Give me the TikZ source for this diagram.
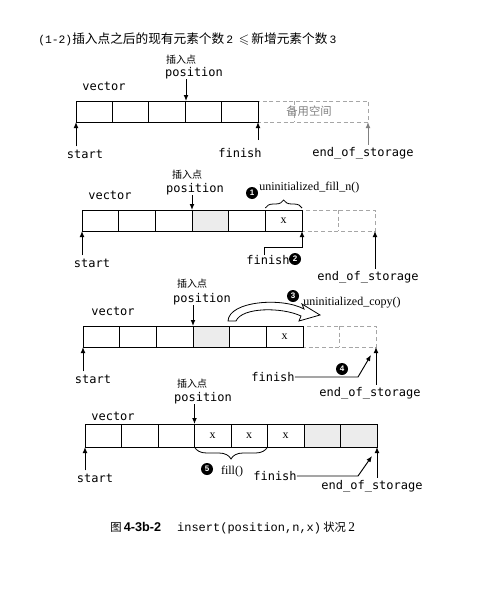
\documentclass[tikz,border=0pt]{standalone}
\usepackage{amssymb}
\usepackage{fontspec}
\setmainfont{Liberation Serif}
\newfontfamily\lblfont{DejaVu Sans Mono}
\newfontfamily\cjk{Noto Sans CJK SC}
\newfontfamily\capmono{Liberation Mono}
\newfontfamily\capsans{Liberation Sans}
\usetikzlibrary{arrows.meta,decorations.pathreplacing}

\tikzset{
  lbl/.style={font=\lblfont\fontsize{9}{9}\selectfont, inner sep=0pt},
  ins/.style={font=\cjk\fontsize{7.5}{8}\selectfont, inner sep=0pt},
  fn/.style={font=\fontsize{9}{9}\selectfont, inner sep=0pt},
  ptr/.style={line width=0.7pt, -{Latex[length=4.5pt,width=3.6pt]}},
  cell/.style={draw, line width=0.6pt},
  spare/.style={draw=gray!70, densely dashed, line width=0.45pt},
  used/.style={fill=gray!15},
  num/.style={circle, fill=black, text=white, inner sep=0pt, minimum size=9pt,
    font=\capsans\fontsize{6}{6}\selectfont\bfseries},
  brc/.style={decorate, decoration={brace, amplitude=6pt}, line width=0.6pt}
}

\begin{document}
\begin{tikzpicture}[x=0.75pt,y=-0.75pt]
\useasboundingbox (0,0) rectangle (478,592);

% heading
\node[anchor=west, inner sep=0pt] (head) at (38,39) {{\capmono\fontsize{8.5}{9}\selectfont(1-2)}{\cjk\fontsize{9.5}{10}\selectfont 插入点之后的现有元素个数}\,{\capmono\fontsize{8.5}{9}\selectfont 2}\, $\leqslant$\,{\cjk\fontsize{9.5}{10}\selectfont 新增元素个数}\,{\capmono\fontsize{8.5}{9}\selectfont 3}};

% ---- state 1
\draw[spare] (258,101) rectangle (368,122);
\draw[spare] (294.5,101) -- (294.5,122);
\draw[cell] (76,101) rectangle (258,122);
\foreach \x in {112.4,148.8,185.2,221.6} \draw[cell] (\x,101) -- (\x,122);
\node[font=\cjk\fontsize{8.5}{9}\selectfont, text=gray, inner sep=0pt] (spare1) at (309,111.5) {备用空间};
\node[lbl] (vec1) at (104,86) {vector};
\node[ins] (ins1) at (181,60) {插入点};
\node[lbl] (pos1) at (194,73) {position};
\coordinate (p1) at (186,101);
\draw[ptr] (pos1.south -| p1) -- (p1);
\node[lbl] (start1) at (85,154) {start};
\coordinate (s1) at (76,122);
\draw[ptr] (start1.north -| s1) ++(0,-3) -- (s1);
\node[lbl] (fin1) at (240,153) {finish};
\coordinate (f1) at (258,122);
\draw[ptr] (258,140) -- (f1);
\node[lbl] (eos1) at (363,153) {end\_of\_storage};
\coordinate (e1) at (368,122);
\draw[ptr, draw=gray, fill=gray] (eos1.north -| e1) ++(0,-2) -- (e1);

% ---- state 2
\draw[used, draw=none] (192,210) rectangle (228.7,231);
\draw[spare] (302,210) rectangle (375,231);
\draw[spare] (338.5,210) -- (338.5,231);
\draw[cell] (82,210) rectangle (302,231);
\foreach \x in {118.7,155.3,192,228.7,265.3} \draw[cell] (\x,210) -- (\x,231);
\node[fn] (x21) at (283.7,221) {x};
\draw[brc] (265.3,208) -- (302,208);
\node[num] (n1) at (252,193) {1};
\node[fn, anchor=west] (ufill) at (259,188) {uninitialized\_fill\_n()};
\node[lbl] (vec2) at (110,195) {vector};
\node[ins] (ins2) at (187,175) {插入点};
\node[lbl] (pos2) at (195,189) {position};
\coordinate (p2) at (192,210);
\draw[ptr] (pos2.south -| p2) -- (p2);
\node[lbl] (start2) at (92,263) {start};
\coordinate (s2) at (82,231);
\draw[ptr] (start2.north -| s2) ++(0,-3) -- (s2);
\node[lbl] (fin2) at (268,260) {finish};
\node[num] (n2) at (295,259) {2};
\coordinate (f2) at (302,231);
\draw[ptr] (fin2.north -| 264,0) -- (264,247) -- (302,247) -- (f2);
\node[lbl] (eos2) at (368,277) {end\_of\_storage};
\coordinate (e2) at (375,231);
\draw[ptr] (eos2.north -| e2) ++(0,-2) -- (e2);

% ---- state 3
\draw[used, draw=none] (193,326) rectangle (229.7,347);
\draw[spare] (303,326) rectangle (376,347);
\draw[spare] (339.5,326) -- (339.5,347);
\draw[cell] (83,326) rectangle (303,347);
\foreach \x in {119.7,156.3,193,229.7,266.3} \draw[cell] (\x,326) -- (\x,347);
\node[fn] (x31) at (284.7,337) {x};
\filldraw[fill=white, line width=0.6pt] (228,321) .. controls (229,301) and (282,297) .. (304,309)
  -- (302,304) -- (320,315) -- (299,321) -- (301,316) .. controls (282,307) and (242,307) .. (236,321) -- cycle;
\node[num] (n3) at (293,296) {3};
\node[fn, anchor=west] (ucopy) at (303,303) {uninitialized\_copy()};
\node[lbl] (vec3) at (113,311) {vector};
\node[ins] (ins3) at (192,284) {插入点};
\node[lbl] (pos3) at (202,299) {position};
\coordinate (p3) at (193,326);
\draw[ptr] (pos3.south -| p3) -- (p3);
\node[lbl] (start3) at (93,379) {start};
\coordinate (s3) at (83,347);
\draw[ptr] (start3.north -| s3) ++(0,-3) -- (s3);
\node[lbl] (fin3) at (273,377) {finish};
\coordinate (f3) at (371,355);
\draw[ptr] (fin3.east) -- (358,377) -- (f3);
\node[num] (n4) at (342,369) {4};
\node[lbl] (eos3) at (370,393) {end\_of\_storage};
\coordinate (e3) at (376,347);
\draw[ptr] (eos3.north -| e3) ++(0,-2) -- (e3);

% ---- state 4
\draw[used, draw=none] (304,424) rectangle (377,447);
\draw[cell] (85,424) rectangle (377,447);
\foreach \x in {121.5,158,194.5,231,267.5,304,340.5} \draw[cell] (\x,424) -- (\x,447);
\foreach \x/\n in {212.7/1,249.2/2,285.7/3} \node[fn] (x4\n) at (\x,436) {x};
\draw[brc, decoration={mirror, amplitude=9pt}] (194.5,447) -- (267.5,447);
\node[num] (n5) at (207,469) {5};
\node[fn] (fillfn) at (232,472) {fill()};
\node[lbl] (vec4) at (113,416) {vector};
\node[ins] (ins4) at (192,384) {插入点};
\node[lbl] (pos4) at (203,398) {position};
\coordinate (p4) at (194.5,424);
\draw[ptr] (pos4.south -| p4) -- (p4);
\node[lbl] (start4) at (95,478) {start};
\coordinate (s4) at (85,447);
\draw[ptr] (start4.north -| s4) ++(0,-3) -- (s4);
\node[lbl] (fin4) at (275,476) {finish};
\coordinate (f4) at (372,456);
\draw[ptr] (fin4.east) -- (358,476) -- (f4);
\node[lbl] (eos4) at (372,486) {end\_of\_storage};
\coordinate (e4) at (377,447);
\draw[ptr] (eos4.north -| e4) ++(0,-2) -- (e4);

% caption
\node[anchor=west, inner sep=0pt] (cap) at (110,528) {{\cjk\fontsize{8.5}{9}\selectfont 图}\,{\capsans\bfseries\fontsize{9.5}{10}\selectfont 4-3b-2}\hspace{12pt}{\capmono\fontsize{9}{9}\selectfont insert(position,n,x)}\,{\cjk\fontsize{8.5}{9}\selectfont 状况}\,2};
\end{tikzpicture}
\end{document}
